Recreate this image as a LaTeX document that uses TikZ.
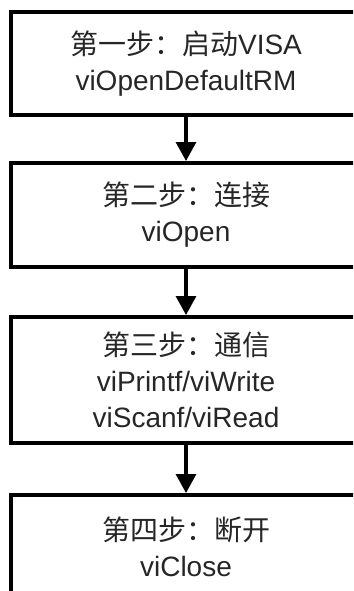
\documentclass[tikz,border=0pt]{standalone}
\usepackage{fontspec}
\setmainfont{Liberation Sans}
\newfontfamily\cjk{Noto Sans CJK SC}
\usetikzlibrary{arrows.meta,positioning}

\tikzset{
    stepbox/.style={draw, line width=4pt, minimum width=350pt, inner sep=0pt,
        align=center, text=black!85, font=\fontsize{28}{36}\selectfont},
    flow/.style={-{Triangle[width=20pt,length=19pt]}, line width=3.2pt}
}

\begin{document}
\begin{tikzpicture}[x=1pt, y=-1pt]
    \clip (0,0) rectangle (353,591);
    \node[stepbox, minimum height=103pt] (s1) at (186, 63.5) {{\cjk 第一步：启动}VISA\\viOpenDefaultRM};
    \node[stepbox, minimum height=104pt] (s2) at (186, 215) {{\cjk 第二步：连接}\\viOpen};
    \node[stepbox, minimum height=126pt] (s3) at (186, 380) {{\cjk 第三步：通信}\\viPrintf/viWrite\\viScanf/viRead};
    \node[stepbox, minimum height=104pt] (s4) at (186, 547) {{\cjk 第四步：断开}\\viClose};
    \draw[flow] (s1) -- (s2);
    \draw[flow] (s2) -- (s3);
    \draw[flow] (s3) -- (s4);
\end{tikzpicture}
\end{document}
